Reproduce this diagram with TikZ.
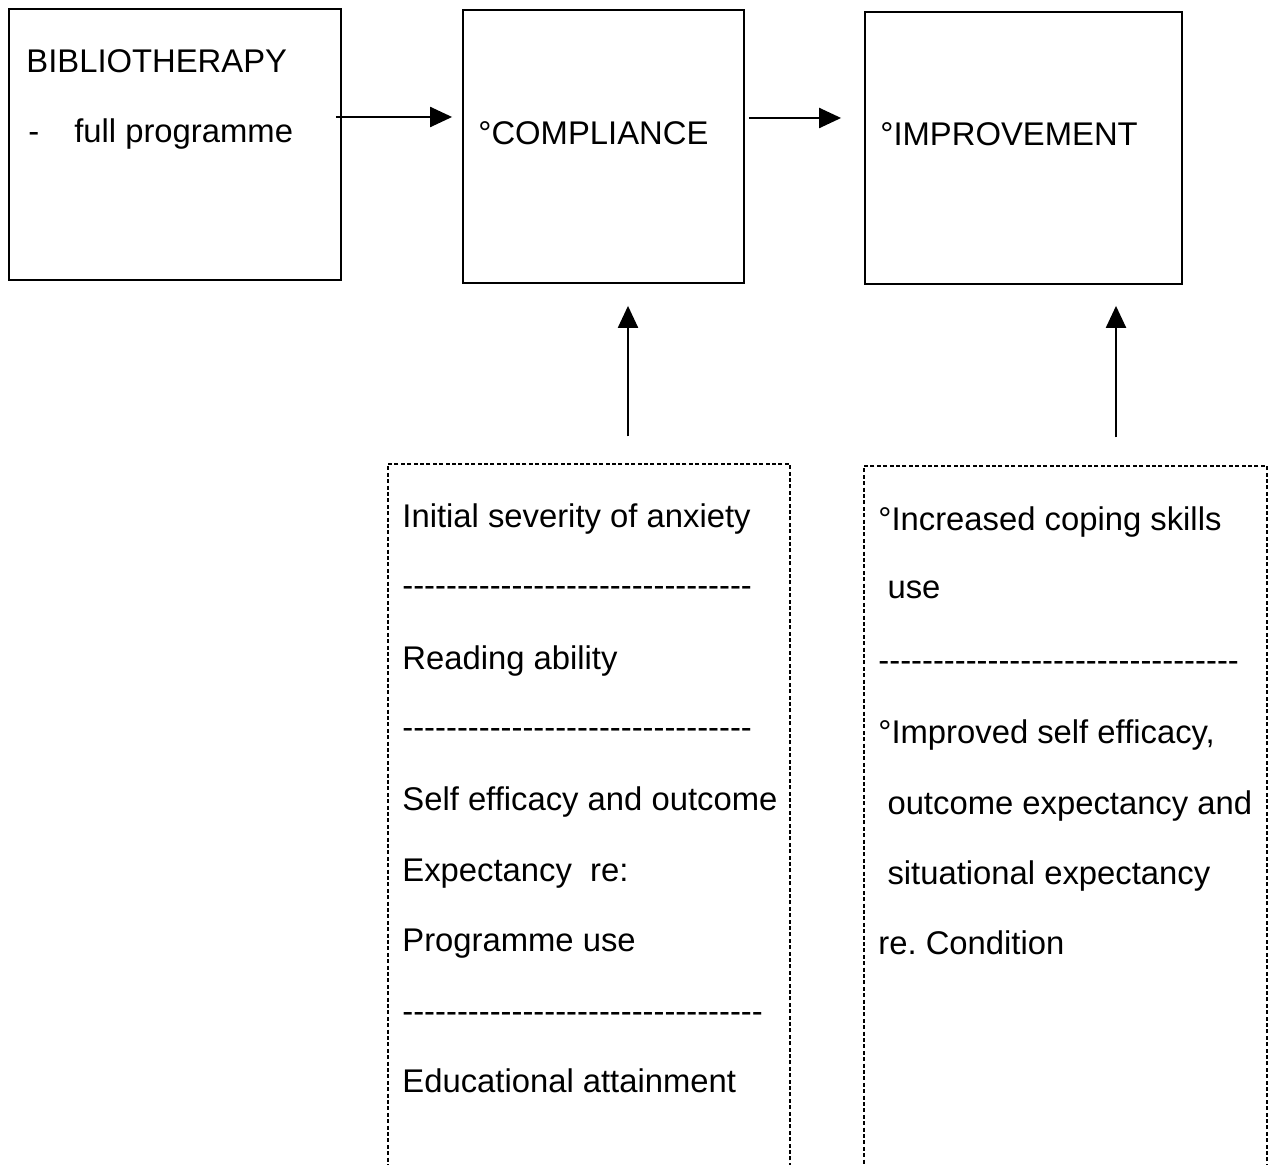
\documentclass[tikz,border=0pt]{standalone}
\usepackage{fontspec}
\setmainfont{Liberation Sans}
\usetikzlibrary{arrows.meta,positioning,fit}

\tikzset{
  solidbox/.style={draw,line width=0.9pt,inner sep=0pt},
  factorbox/.style={draw,line width=0.7pt,dash pattern=on 2pt off 1.2pt,inner sep=0pt},
  txt/.style={anchor=base west,inner sep=0pt,font=\fontsize{16.4}{19}\selectfont},
  arr/.style={-{Triangle[length=11pt,width=10pt]},line width=1.1pt}
}
\newcommand{\dashrow}[1]{\foreach \k in {1,...,#1}{-}}

\begin{document}
\begin{tikzpicture}[x=0.5pt,y=-0.5pt]
  \useasboundingbox (0,0) rectangle (1269,1165);

  % top row
  \node[solidbox,fit={(9,9) (341,280)}] (biblio) {};
  \node[solidbox,fit={(463,10) (744,283)}] (compl) {};
  \node[solidbox,fit={(865,12) (1182,284)}] (improv) {};

  \node[txt] (bibtitle) at (26,73) {BIBLIOTHERAPY};
  \node[txt] (bibsub) at (28,143) {-\hspace{17.5pt}full programme};
  \node[txt] (compltitle) at (478,145) {°COMPLIANCE};
  \node[txt] (improvtitle) at (880,146) {°IMPROVEMENT};

  % factor boxes (open at the bottom edge)
  \node[factorbox,fit={(388,464) (790,1200)}] (complfactors) {};
  \node[factorbox,fit={(864,466) (1267,1200)}] (improvfactors) {};

  \node[txt] (fa1) at (402,528) {Initial severity of anxiety};
  \node[txt] (fa2) at (402,597) {\dashrow{32}};
  \node[txt] (fa3) at (402,669) {Reading ability};
  \node[txt] (fa4) at (402,738) {\dashrow{32}};
  \node[txt] (fa5) at (402,810) {Self efficacy and outcome};
  \node[txt] (fa6) at (402,881) {Expectancy\ \ re:};
  \node[txt] (fa7) at (402,951) {Programme use};
  \node[txt] (fa8) at (402,1022) {\dashrow{33}};
  \node[txt] (fa9) at (402,1092) {Educational attainment};

  \node[txt] (fb1) at (878,531) {°Increased coping skills};
  \node[txt] (fb2) at (878,599) {\ use};
  \node[txt] (fb3) at (878,671) {\dashrow{33}};
  \node[txt] (fb4) at (878,743) {°Improved self efficacy,};
  \node[txt] (fb5) at (878,814) {\ outcome expectancy and};
  \node[txt] (fb6) at (878,884) {\ situational expectancy};
  \node[txt] (fb7) at (878,954) {re.\ Condition};

  % connectors
  \coordinate (rowA) at (0,117);
  \coordinate (rowB) at (0,118);
  \coordinate (colA) at (628,0);
  \coordinate (colB) at (1116,0);
  \draw[arr,shorten <=-3pt,shorten >=5pt] (biblio.east |- rowA) -- (compl.west |- rowA);
  \draw[arr,shorten <=2pt,shorten >=11.5pt] (compl.east |- rowB) -- (improv.west |- rowB);
  \draw[arr,shorten <=13.5pt,shorten >=11pt] (complfactors.north -| colA) -- (compl.south -| colA);
  \draw[arr,shorten <=14pt,shorten >=10.5pt] (improvfactors.north -| colB) -- (improv.south -| colB);
\end{tikzpicture}
\end{document}
